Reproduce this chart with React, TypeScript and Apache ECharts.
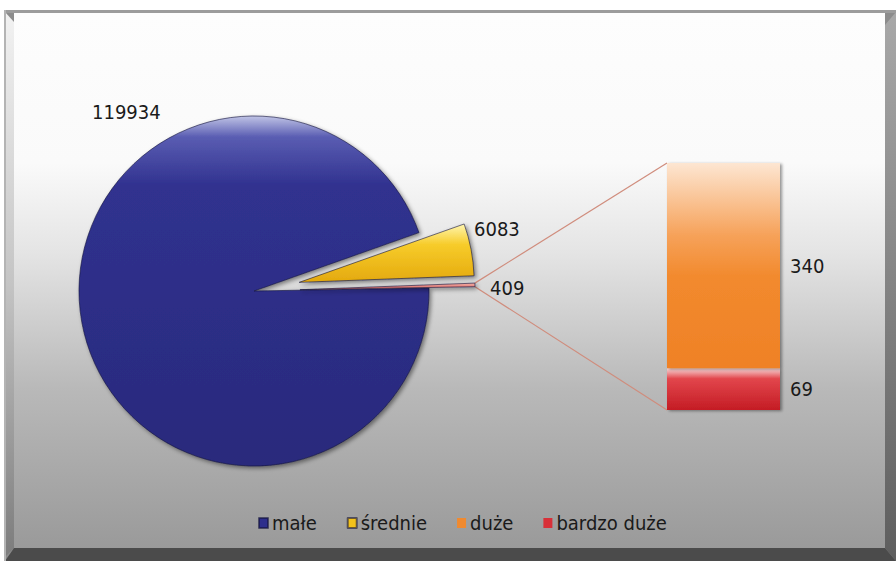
import { useEffect, useRef } from 'react';
import * as echarts from 'echarts';

// ---- data ----
const pieNames = ['małe', 'średnie', 'inne'];
const pieValues = [119934, 6083, 409];
const barNames = ['bardzo duże', 'duże'];
const barValues = [69, 340];
const legendNames = ['małe', 'średnie', 'duże', 'bardzo duże'];

const FONT = '"Liberation Sans Narrow", "DejaVu Sans Condensed", "Arial Narrow", sans-serif';
const PIE_CENTER = [254, 291];
const PIE_R = 175;
const PIE_START = 1;
const EXPLODE = 46;
const pieLabelX = [92, 474, 490];
const pieLabelY = [112, 229, 288];

const lg = (stops: [number, string][]) =>
  new echarts.graphic.LinearGradient(0, 0, 0, 1, stops.map(([offset, color]) => ({ offset, color })));

const pieColors = [
  lg([[0, '#c0c4e6'], [0.06, '#5a5db2'], [0.2, '#30318f'], [1, '#292a7c']]),
  lg([[0, '#fff6b0'], [0.35, '#f7cc2a'], [1, '#e4a90e']]),
  lg([[0, '#f4b0a8'], [1, '#d85a55']]),
];
const barColors = [
  lg([[0, '#f8d8d8'], [0.25, '#e2464c'], [1, '#c41c24']]),
  lg([[0, '#fde6d2'], [0.35, '#f6a25a'], [0.55, '#f28a2e'], [1, '#ef8126']]),
];
const legendIconColors = ['#2e2f8c', '#f2c21c', '#f08a30', '#d83038'];

export default function App() {
  const ref = useRef<HTMLDivElement>(null);
  useEffect(() => {
    if (!ref.current) return;
    const chart = echarts.init(ref.current, undefined, { renderer: 'svg' });

    const frame: any[] = [
      { type: 'rect', shape: { x: 4, y: 10, width: 892, height: 551 }, style: { fill: '#8c8c8c' }, z: -10 },
      { type: 'polygon', shape: { points: [[5, 12], [14, 22], [14, 548], [5, 557]] },
        style: { fill: lg([[0, '#f2f2f2'], [0.5, '#c4c4c4'], [1, '#7c7c7c']]) }, z: -9 },
      { type: 'polygon', shape: { points: [[896, 12], [885, 25], [885, 548], [896, 561]] },
        style: { fill: lg([[0, '#a8a8a8'], [1, '#5e5e5e']]) }, z: -9 },
      { type: 'polygon', shape: { points: [[5, 561], [14, 548], [885, 548], [896, 561]] },
        style: { fill: '#4b4b4b' }, z: -9 },
      { type: 'rect', shape: { x: 4, y: 10, width: 892, height: 3 }, style: { fill: '#9c9c9c' }, z: -8 },
      { type: 'rect', shape: { x: 4, y: 10, width: 2, height: 551 }, style: { fill: '#b4b4b4' }, z: -8 },
      { type: 'rect', shape: { x: 14, y: 13, width: 871, height: 535 },
        style: { fill: lg([[0, '#fdfdfd'], [0.28, '#fafafa'], [0.45, '#e4e4e4'], [0.7, '#b9b9b9'], [1, '#9a9a9a']]) }, z: -8 },
    ];

    // value labels of the exploded slices
    const sliceLabels: any[] = [1, 2].map((i) => ({
      type: 'text', x: pieLabelX[i], y: pieLabelY[i], z: 5,
      style: { text: String(pieValues[i]), fontFamily: FONT, fontSize: 20, fill: '#1a1a1a', align: 'left', verticalAlign: 'middle' },
    }));

    const option: any = {
      animation: false,
      graphic: { elements: [...frame, ...sliceLabels] },
      legend: {
        data: legendNames.map((n, i) => ({ name: n, itemStyle: { color: legendIconColors[i] } })),
        left: 253, top: 508,
        icon: 'rect', itemWidth: 9, itemHeight: 10, itemGap: 30,
        textStyle: { fontFamily: FONT, fontSize: 20, color: '#1a1a1a', padding: [0, 0, 0, -1] },
        selectedMode: false,
      },
      grid: { left: 667, top: 163, width: 113, height: 247 },
      xAxis: { type: 'category', data: ['x'], show: false },
      yAxis: { type: 'value', min: 0, max: barValues.reduce((a, b) => a + b, 0), show: false },
      series: [
        {
          type: 'pie',
          center: PIE_CENTER,
          radius: PIE_R,
          startAngle: PIE_START,
          clockwise: true,
          selectedMode: 'multiple',
          selectedOffset: EXPLODE,
          emphasis: { disabled: true },
          itemStyle: { borderColor: 'rgba(20,20,60,0.6)', borderWidth: 1, shadowBlur: 4, shadowColor: 'rgba(0,0,0,0.45)', shadowOffsetX: 2, shadowOffsetY: 2 },
          label: { show: true, position: 'inside', formatter: '{c}', fontFamily: FONT, fontSize: 20, color: '#1a1a1a', overflow: 'none' },
          labelLine: { show: false },
          labelLayout: (p: any) => ({ x: pieLabelX[p.dataIndex], y: pieLabelY[p.dataIndex], align: 'left', verticalAlign: 'middle' }),
          data: pieNames.map((n, i) => ({
            name: n, value: pieValues[i], selected: i > 0,
            label: { show: i === 0 },
            itemStyle: { color: pieColors[i] },
          })),
        },
        ...barNames.map((n, i) => ({
          type: 'bar',
          name: n,
          stack: 'b',
          barWidth: '100%',
          data: [barValues[i]],
          itemStyle: { color: barColors[i], shadowBlur: 3, shadowColor: 'rgba(0,0,0,0.4)', shadowOffsetX: 2, shadowOffsetY: 1 },
          label: { show: true, position: 'right', distance: 10, fontFamily: FONT, fontSize: 20, color: '#1a1a1a' },
          emphasis: { disabled: true },
        })),
      ],
    };
    chart.setOption(option);

    // connector lines from the "other" pie slice to the stacked bar
    try {
      const model = (chart as any).getModel();
      const lay = model.getSeriesByIndex(0).getData().getItemLayout(2);
      const mid = (lay.startAngle + lay.endAngle) / 2;
      const ox = lay.cx + Math.cos(mid) * EXPLODE;
      const oy = lay.cy + Math.sin(mid) * EXPLODE;
      const pA = [ox + lay.r * Math.cos(lay.startAngle), oy + lay.r * Math.sin(lay.startAngle)];
      const pB = [ox + lay.r * Math.cos(lay.endAngle), oy + lay.r * Math.sin(lay.endAngle)];
      const rect = model.getComponent('grid', 0).coordinateSystem.getRect();
      const total = barValues.reduce((a, b) => a + b, 0);
      const top = chart.convertToPixel({ gridIndex: 0 } as any, [0, total]) as number[];
      const bot = chart.convertToPixel({ gridIndex: 0 } as any, [0, 0]) as number[];
      const up = pA[1] < pB[1] ? pA : pB;
      const dn = pA[1] < pB[1] ? pB : pA;
      const lineStyle = { stroke: '#d08c7c', lineWidth: 1.2, fill: null };
      chart.setOption({
        graphic: {
          elements: [
            ...frame,
            ...sliceLabels,
            { type: 'polyline', shape: { points: [up, [rect.x, top[1]]] }, style: lineStyle, z: 1 },
            { type: 'polyline', shape: { points: [dn, [rect.x, bot[1]]] }, style: lineStyle, z: 1 },
          ],
        },
      });
    } catch (e) {
      console.error(e);
    }

    return () => chart.dispose();
  }, []);
  return <div ref={ref} style={{ position: 'absolute', left: 0, top: 0, width: 896, height: 561 }} />;
}
